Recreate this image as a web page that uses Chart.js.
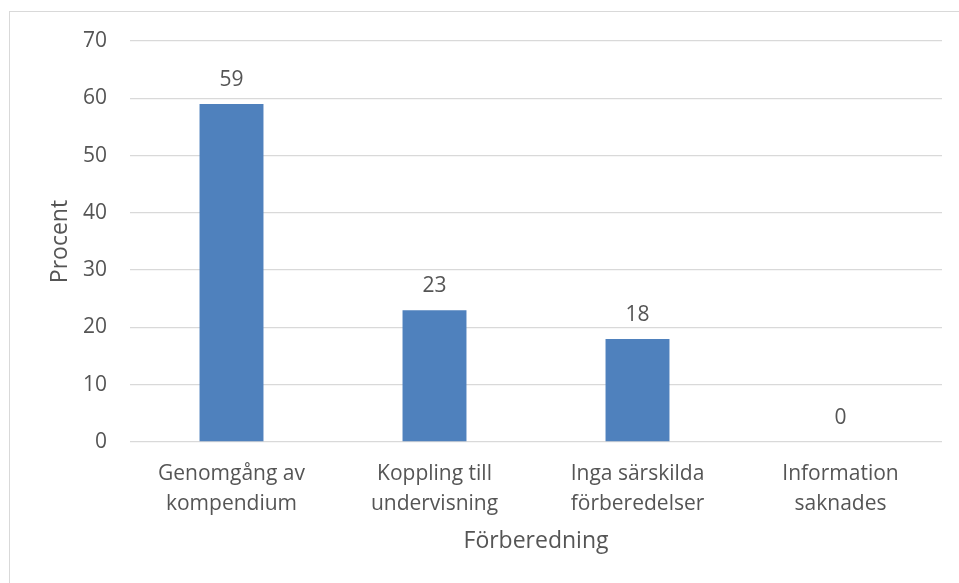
<!DOCTYPE html>
<html>
<head>
<meta charset="utf-8">
<script src="https://cdn.jsdelivr.net/npm/chart.js@4"></script>
<style>
  body { margin: 0; background: #fff; }
  .wrap { position: relative; width: 959px; height: 583px; }
  .frame { position: absolute; left: 9px; top: 11px; right: 0; bottom: 0; border-left: 1px solid #d9d9d9; border-top: 1px solid #d9d9d9; }
  canvas { position: absolute; left: 0; top: 0; }
</style>
</head>
<body>
<div class="wrap">
  <div class="frame"></div>
  <canvas id="ctx1" width="959" height="583"></canvas>
</div>
<script>
const categories = [
    ['Genomgång av', 'kompendium'],
    ['Koppling till', 'undervisning'],
    ['Inga särskilda', 'förberedelser'],
    ['Information', 'saknades']
];
const values = [59, 23, 18, 0];
const yTicks = [0, 10, 20, 30, 40, 50, 60, 70];
const xTitle = 'Förberedning';
const yTitle = 'Procent';

const textColor = '#555555';
const gridColor = '#d9d9d9';

// draws the value above each bar
const valueLabels = {
    id: 'valueLabels',
    afterDatasetsDraw(chart) {
        const ctx = chart.ctx;
        const meta = chart.getDatasetMeta(0);
        ctx.save();
        ctx.font = '21px "Open Sans"';
        ctx.fillStyle = textColor;
        ctx.textAlign = 'center';
        ctx.textBaseline = 'middle';
        meta.data.forEach((bar, i) => {
            ctx.fillText(String(values[i]), bar.x, bar.y - 24);
        });
        ctx.restore();
    }
};

const myPlot = (ctx) => {
    new Chart(ctx, {
        type: 'bar',
        data: {
            labels: categories,
            datasets: [{
                label: yTitle,
                data: values,
                backgroundColor: '#4f81bd',
                borderWidth: 0,
                categoryPercentage: 1,
                barPercentage: 0.315
            }]
        },
        options: {
            responsive: false,
            animation: false,
            layout: { padding: { top: 41, left: 9, right: 17, bottom: 0 } },
            plugins: {
                legend: { display: false },
                tooltip: { enabled: false }
            },
            scales: {
                x: {
                    grid: { display: false, drawTicks: false },
                    border: { display: false },
                    ticks: {
                        color: textColor,
                        font: { family: 'Open Sans', size: 21, lineHeight: 1.43 },
                        padding: 17,
                        maxRotation: 0,
                        autoSkip: false
                    },
                    title: {
                        display: true,
                        text: xTitle,
                        color: textColor,
                        font: { family: 'Open Sans', size: 23 },
                        padding: { top: 0, bottom: 28 }
                    },
                    afterFit: (s) => { s.height = 141; }
                },
                y: {
                    min: 0,
                    max: 70,
                    afterBuildTicks: (s) => { s.ticks = yTicks.map(v => ({ value: v })); },
                    grid: { color: gridColor, lineWidth: 1.3, drawTicks: false },
                    border: { display: false },
                    ticks: {
                        color: textColor,
                        font: { family: 'Open Sans', size: 21 },
                        padding: 23
                    },
                    title: {
                        display: true,
                        text: yTitle,
                        color: textColor,
                        font: { family: 'Open Sans', size: 23 },
                        padding: { top: 38, bottom: 0 }
                    },
                    afterFit: (s) => { s.width = 121; }
                }
            }
        },
        plugins: [valueLabels]
    });
}

myPlot(document.getElementById('ctx1'));
</script>
</body>
</html>
